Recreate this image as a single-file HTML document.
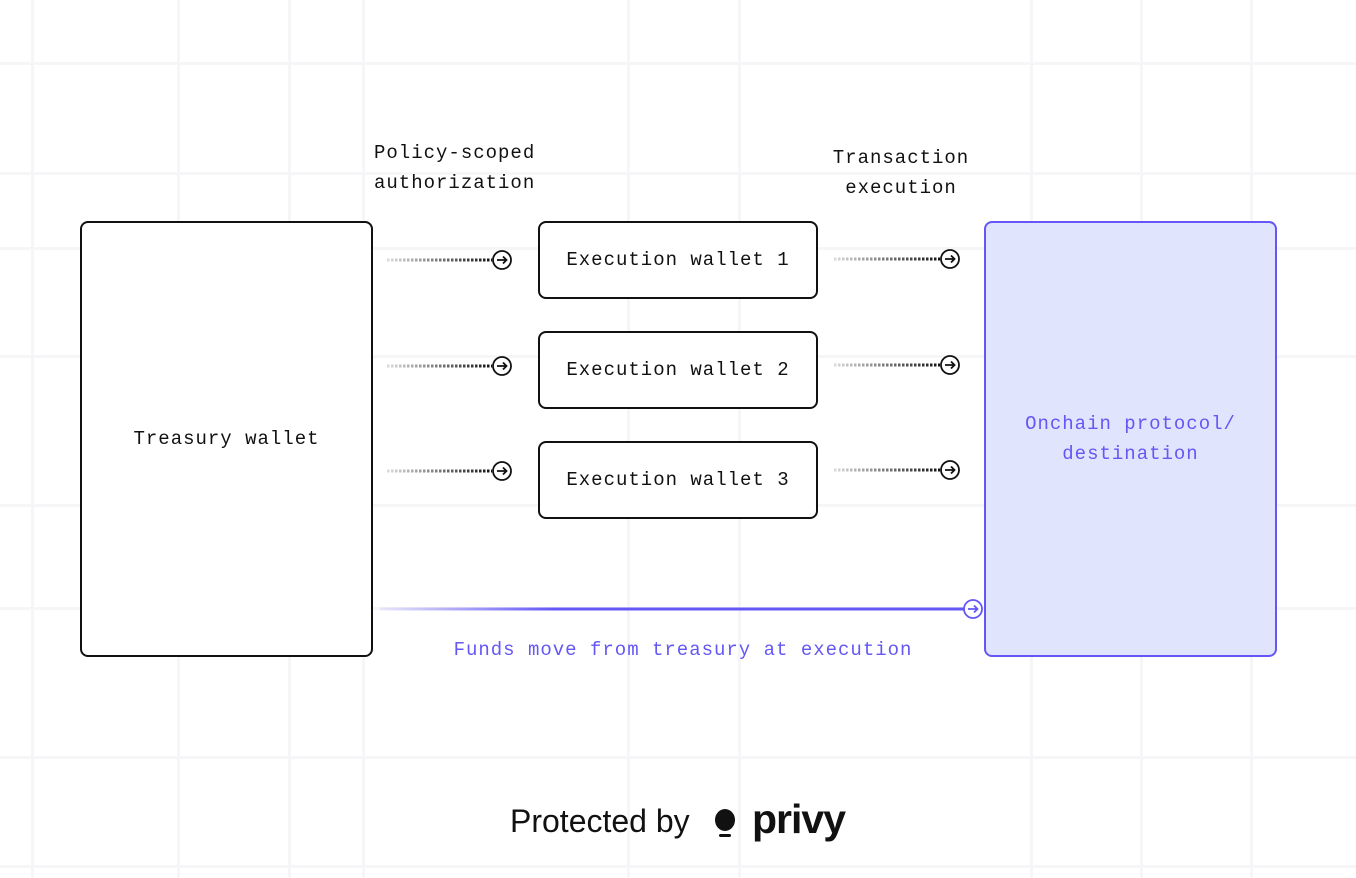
<!DOCTYPE html>
<html><head><style>
body{margin:0;width:1356px;height:878px;background:#fff;position:relative;overflow:hidden;font-family:"Liberation Mono",monospace;}
.g{position:absolute;background:#f6f6f9}
.h{left:0;width:1356px;height:3px}
.v{top:0;width:3px;height:878px}
.box{position:absolute;border:2px solid #111;border-radius:8px;background:#fff;display:flex;align-items:center;justify-content:center;font-size:19px;letter-spacing:1px;color:#111;box-sizing:border-box;text-align:center;line-height:30px}
.lbl{position:absolute;font-size:19px;letter-spacing:1px;color:#111;line-height:30px;text-align:center}
</style></head><body>
<div class="g h" style="top:62px"></div>
<div class="g h" style="top:172px"></div>
<div class="g h" style="top:247px"></div>
<div class="g h" style="top:355px"></div>
<div class="g h" style="top:504px"></div>
<div class="g h" style="top:607px"></div>
<div class="g h" style="top:756px"></div>
<div class="g h" style="top:865px"></div>
<div class="g v" style="left:31px"></div>
<div class="g v" style="left:177px"></div>
<div class="g v" style="left:288px"></div>
<div class="g v" style="left:362px"></div>
<div class="g v" style="left:627px"></div>
<div class="g v" style="left:738px"></div>
<div class="g v" style="left:1030px"></div>
<div class="g v" style="left:1140px"></div>
<div class="g v" style="left:1250px"></div>

<div class="lbl" style="left:374px;top:138px;text-align:left">Policy-scoped<br>authorization</div>
<div class="lbl" style="left:826px;top:143px;width:150px">Transaction<br>execution</div>

<div class="box" style="left:80px;top:221px;width:293px;height:436px">Treasury wallet</div>
<div class="box" style="left:538px;top:221px;width:280px;height:78px">Execution wallet 1</div>
<div class="box" style="left:538px;top:331px;width:280px;height:78px">Execution wallet 2</div>
<div class="box" style="left:538px;top:441px;width:280px;height:78px">Execution wallet 3</div>
<div class="box" style="left:984px;top:221px;width:293px;height:436px;background:#e0e4fd;border-color:#6457f5;color:#6457f5">Onchain protocol/<br>destination</div>

<svg width="1356" height="878" style="position:absolute;left:0;top:0">
<defs>
<linearGradient id="fd1" gradientUnits="userSpaceOnUse" x1="387" x2="492" y1="0" y2="0"><stop offset="0" stop-color="#111" stop-opacity="0.15"/><stop offset="1" stop-color="#111"/></linearGradient>
<linearGradient id="fd2" gradientUnits="userSpaceOnUse" x1="834" x2="940" y1="0" y2="0"><stop offset="0" stop-color="#111" stop-opacity="0.15"/><stop offset="1" stop-color="#111"/></linearGradient>
<linearGradient id="fp" gradientUnits="userSpaceOnUse" x1="380" x2="964" y1="0" y2="0"><stop offset="0" stop-color="#6457f5" stop-opacity="0.1"/><stop offset="0.3" stop-color="#6457f5"/><stop offset="1" stop-color="#6457f5"/></linearGradient>
</defs>
<g stroke="url(#fd1)" stroke-width="3" stroke-dasharray="2.5 1.5">
<line x1="387" y1="260" x2="492" y2="260"/>
<line x1="387" y1="366" x2="492" y2="366"/>
<line x1="387" y1="471" x2="492" y2="471"/>
</g>
<g stroke="url(#fd2)" stroke-width="3" stroke-dasharray="2.5 1.5">
<line x1="834" y1="259" x2="940" y2="259"/>
<line x1="834" y1="365" x2="940" y2="365"/>
<line x1="834" y1="470" x2="940" y2="470"/>
</g>
<g fill="#fff" stroke="#111" stroke-width="1.8">
<circle cx="502" cy="260" r="9"/><circle cx="502" cy="366" r="9"/><circle cx="502" cy="471" r="9"/>
<circle cx="950" cy="259" r="9"/><circle cx="950" cy="365" r="9"/><circle cx="950" cy="470" r="9"/>
</g>
<g stroke="#111" stroke-width="1.8" fill="none">
<path d="M497 260h9M503 256.5l3.5 3.5-3.5 3.5"/><path d="M497 366h9M503 362.5l3.5 3.5-3.5 3.5"/><path d="M497 471h9M503 467.5l3.5 3.5-3.5 3.5"/>
<path d="M945 259h9M951 255.5l3.5 3.5-3.5 3.5"/><path d="M945 365h9M951 361.5l3.5 3.5-3.5 3.5"/><path d="M945 470h9M951 466.5l3.5 3.5-3.5 3.5"/>
</g>
<line x1="380" y1="609" x2="964" y2="609" stroke="url(#fp)" stroke-width="3"/>
<circle cx="973" cy="609" r="9" fill="#fff" stroke="#6457f5" stroke-width="1.8"/>
<path d="M968 609h9M974 605.5l3.5 3.5-3.5 3.5" stroke="#6457f5" stroke-width="1.8" fill="none"/>
</svg>

<div class="lbl" style="left:400px;top:635px;width:566px;color:#6457f5">Funds move from treasury at execution</div>

<div style="position:absolute;left:510px;top:800px;font-family:'Liberation Sans',sans-serif;font-size:32px;color:#111;line-height:42px">Protected by</div>
<svg style="position:absolute;left:712px;top:808px" width="28" height="32"><ellipse cx="13" cy="12" rx="10" ry="11" fill="#111"/><rect x="7" y="26" width="12" height="3" rx="1.5" fill="#111"/></svg>
<div style="position:absolute;left:752px;top:797px;font-family:'Liberation Sans',sans-serif;font-weight:bold;font-size:41px;color:#111;line-height:44px;letter-spacing:-1px">privy</div>
</body></html>
